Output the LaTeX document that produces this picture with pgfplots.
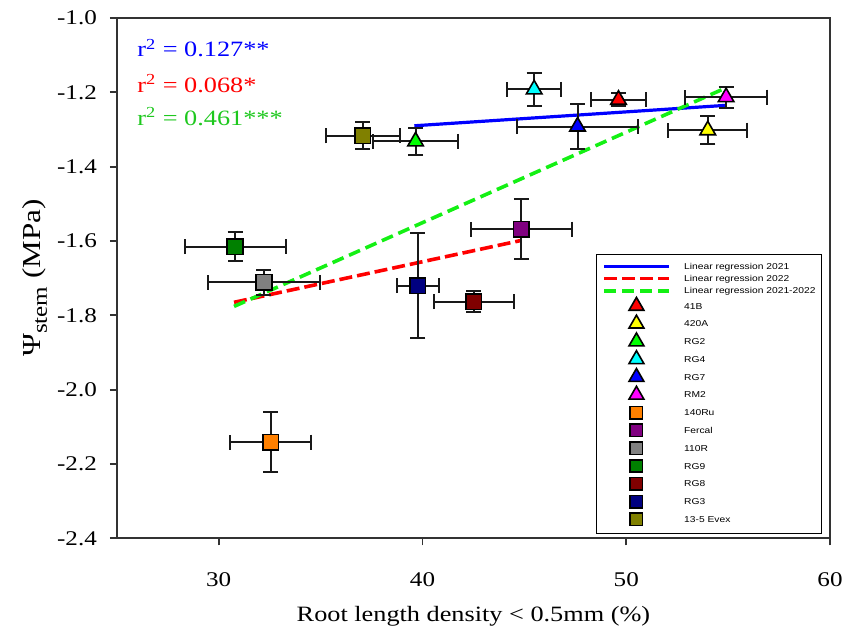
\documentclass[border=0pt]{standalone}
\usepackage{fontspec}
\setmainfont{Liberation Serif}[FakeStretch=1.2]
\newfontfamily\legfont{Liberation Sans}[FakeStretch=1.2]
\usepackage{pgfplots}
\pgfplotsset{compat=1.18}
\usetikzlibrary{calc}

\definecolor{cRed}{RGB}{255,0,0}
\definecolor{cYellow}{RGB}{255,255,0}
\definecolor{cGreen}{RGB}{0,255,0}
\definecolor{cCyan}{RGB}{0,255,255}
\definecolor{cBlue}{RGB}{0,0,255}
\definecolor{cMagenta}{RGB}{255,0,255}
\definecolor{cOrange}{RGB}{255,128,0}
\definecolor{cPurple}{RGB}{128,0,128}
\definecolor{cGray}{RGB}{128,128,128}
\definecolor{cDkGreen}{RGB}{0,128,0}
\definecolor{cMaroon}{RGB}{128,0,0}
\definecolor{cNavy}{RGB}{0,0,128}
\definecolor{cOlive}{RGB}{128,128,0}
\definecolor{lineGreen}{RGB}{20,240,20}
\definecolor{txtGreen}{RGB}{30,200,30}

\tikzset{
  lineent/.style={text height=4.65bp, text depth=1.55bp},
  markent/.style={text height=6.0bp, text depth=2.9bp},
}

\pgfplotsset{
  errb/.style={
    only marks,
    error bars/x dir=both, error bars/x explicit,
    error bars/y dir=both, error bars/y explicit,
    error bars/error bar style={line width=1bp, black!90},
    error bars/error mark options={rotate=90, line width=1bp, black!90, mark size=3.75bp},
  },
  tri/.style={errb, mark=triangle*, mark size=4.5bp,
    mark options={fill=#1, draw=black, line width=0.8bp, solid},
    legend image code/.code={\draw[##1, mark size=4.3bp] plot coordinates {(16bp,0bp)};}},
  sqr/.style={errb, mark=square*, mark size=3.9bp,
    mark options={fill=#1, draw=black, line width=0.8bp, solid},
    legend image code/.code={\draw[##1, mark size=3.1bp] plot coordinates {(16bp,0bp)};}},
  regline/.style={legend image code/.code={\draw[##1] (0bp,0bp) -- (32.5bp,0bp);}},
}

\begin{document}
\begin{tikzpicture}
\begin{axis}[
  name=ax,
  scale only axis, width=357bp, height=260.5bp,
  xmin=25, xmax=60, ymin=-2.4, ymax=-1.0,
  xtick={30,40,50,60}, xticklabels={30,40,50,60},
  ytick={-2.4,-2.2,-2.0,-1.8,-1.6,-1.4,-1.2,-1.0},
  yticklabels={-2.4,-2.2,-2.0,-1.8,-1.6,-1.4,-1.2,-1.0},
  xtick pos=bottom, ytick pos=left,
  tick align=outside, major tick length=3.5bp,
  axis line style={line width=1bp, black!80},
  tick style={line width=1bp, black!80},
  tick label style={font=\fontsize{10.5}{12}\selectfont},
  xticklabel style={yshift=-10bp},
  yticklabel style={xshift=-3bp},
  label style={font=\fontsize{11}{13}\selectfont},
  xlabel={Root length density < 0.5mm (\%)},
  xlabel style={at={(axis description cs:0.5,0)}, anchor=base, yshift=-41.5bp},
  ylabel={Ψ\raisebox{-0.55ex}{\fontsize{10.5}{12}\selectfont stem} (MPa)},
  ylabel style={at={(axis description cs:-0.115,0.5)}, anchor=center,
    font=\fontsize{13}{15}\selectfont},
  legend style={
    at={(axis description cs:0.6718,0.0077)}, anchor=south west,
    draw=black, line width=0.75bp,
    inner xsep=3bp, inner ysep=2.7bp,
    row sep=0pt, column sep=6.5bp,
    font=\legfont\fontsize{4.3}{5}\selectfont,
    nodes={inner sep=0pt},
  },
  legend cell align=left,
]

% regression lines
\addplot[regline, cBlue, line width=1.6bp] coordinates {(39.6,-1.290) (54.9,-1.235)};
\addlegendentry[lineent]{Linear regression 2021}
\addplot[regline, cRed, line width=1.8bp, dash pattern=on 6.5bp off 2.5bp] coordinates {(30.75,-1.765) (44.8,-1.599)};
\addlegendentry[lineent]{Linear regression 2022}
\addplot[regline, lineGreen, line width=1.8bp, dash pattern=on 6bp off 3bp] coordinates {(30.75,-1.776) (54.85,-1.189)};
\addlegendentry[lineent]{Linear regression 2021-2022}

% 2021 genotypes (triangles)
\addplot[tri=cRed] table[x=x, y=y, x error=ex, y error=ey] {
x y ex ey
49.62 -1.220 1.33 0.017
};
\addlegendentry[markent]{41B}
\addplot[tri=cYellow] table[x=x, y=y, x error=ex, y error=ey] {
x y ex ey
54.00 -1.302 1.95 0.037
};
\addlegendentry[markent]{420A}
\addplot[tri=cGreen] table[x=x, y=y, x error=ex, y error=ey] {
x y ex ey
39.66 -1.332 2.08 0.037
};
\addlegendentry[markent]{RG2}
\addplot[tri=cCyan] table[x=x, y=y, x error=ex, y error=ey] {
x y ex ey
45.48 -1.192 1.34 0.045
};
\addlegendentry[markent]{RG4}
\addplot[tri=cBlue] table[x=x, y=y, x error=ex, y error=ey] {
x y ex ey
47.61 -1.292 2.97 0.060
};
\addlegendentry[markent]{RG7}
\addplot[tri=cMagenta] table[x=x, y=y, x error=ex, y error=ey] {
x y ex ey
54.90 -1.213 2.02 0.028
};
\addlegendentry[markent]{RM2}

% 2022 genotypes (squares)
\addplot[sqr=cOrange] table[x=x, y=y, x error=ex, y error=ey] {
x y ex ey
32.55 -2.141 2.00 0.081
};
\addlegendentry[markent]{140Ru}
\addplot[sqr=cPurple] table[x=x, y=y, x error=ex, y error=ey] {
x y ex ey
44.85 -1.568 2.47 0.081
};
\addlegendentry[markent]{Fercal}
\addplot[sqr=cGray] table[x=x, y=y, x error=ex, y error=ey] {
x y ex ey
32.22 -1.711 2.75 0.034
};
\addlegendentry[markent]{110R}
\addplot[sqr=cDkGreen] table[x=x, y=y, x error=ex, y error=ey] {
x y ex ey
30.80 -1.615 2.48 0.039
};
\addlegendentry[markent]{RG9}
\addplot[sqr=cMaroon] table[x=x, y=y, x error=ex, y error=ey] {
x y ex ey
42.51 -1.763 1.97 0.028
};
\addlegendentry[markent]{RG8}
\addplot[sqr=cNavy] table[x=x, y=y, x error=ex, y error=ey] {
x y ex ey
39.77 -1.720 1.02 0.141
};
\addlegendentry[markent]{RG3}
\addplot[sqr=cOlive] table[x=x, y=y, x error=ex, y error=ey] {
x y ex ey
37.07 -1.317 1.82 0.036
};
\addlegendentry[markent]{13-5 Evex}

\node[anchor=west, text=cBlue, font=\fontsize{11}{13}\selectfont] at (axis cs:25.66,-1.081) {r\textsuperscript{2} = 0.127**};
\node[anchor=west, text=cRed, font=\fontsize{11}{13}\selectfont] at (axis cs:25.66,-1.177) {r\textsuperscript{2} = 0.068*};
\node[anchor=west, text=txtGreen, font=\fontsize{11}{13}\selectfont] at (axis cs:25.66,-1.266) {r\textsuperscript{2} = 0.461***};
\end{axis}
\pgfresetboundingbox
\path ($(ax.south west)+(-58.5bp,-44bp)$) rectangle ($(ax.north east)+(7bp,9bp)$);
\end{tikzpicture}
\end{document}
